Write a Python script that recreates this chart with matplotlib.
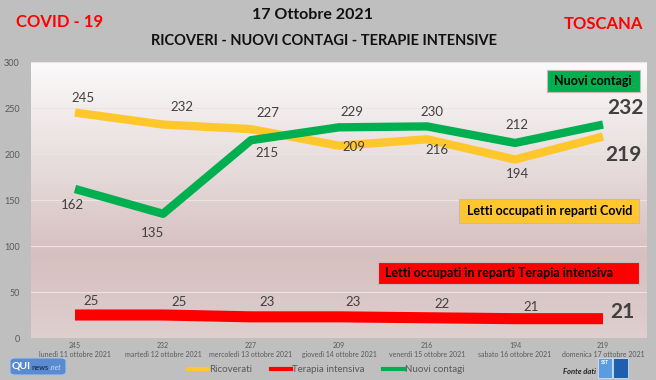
import numpy as np
import matplotlib
matplotlib.use("Agg")
import matplotlib.pyplot as plt
from matplotlib.colors import LinearSegmentedColormap
from matplotlib.lines import Line2D
from matplotlib.patches import Rectangle, FancyBboxPatch

plt.rcParams['font.family'] = ['Lato', 'DejaVu Sans']

# data
days = ["lunedì 11 ottobre 2021", "martedì 12 ottobre 2021", "mercoledì 13 ottobre 2021",
        "giovedì 14 ottobre 2021", "venerdì 15 ottobre 2021", "sabato 16 ottobre 2021",
        "domenica 17 ottobre 2021"]
ricoverati = [245, 232, 227, 209, 216, 194, 219]
terapia = [25, 25, 23, 23, 22, 21, 21]
contagi = [162, 135, 215, 229, 230, 212, 232]

W, H = 656, 380
YELLOW = "#ffc72c"
RED = "#ff0000"
GREEN = "#00b050"
TXT = "#404040"

fig = plt.figure(figsize=(W / 100, H / 100), dpi=100, facecolor="#bfbfbf")
ax = fig.add_axes([31 / W, 42 / H, 616 / W, 276 / H])
x = np.arange(len(days))
ax.set_xlim(-0.5, len(days) - 0.5)
ax.set_ylim(0, 300)

# plot area background gradient
cmap = LinearSegmentedColormap.from_list(
    "bg", [(0, "#dfcfcf"), (0.3, "#d6bfbf"), (0.6, "#e6dada"), (1, "#fbfafa")])
ax.imshow(np.linspace(0, 1, 256).reshape(-1, 1), extent=(-0.5, len(days) - 0.5, 0, 300),
          origin="lower", aspect="auto", cmap=cmap, zorder=0)

ax.set_yticks(range(0, 301, 50))
ax.grid(axis="y", color="#ebe4e4", lw=0.8, zorder=1)
ax.set_axisbelow(True)
for s in ax.spines.values():
    s.set_visible(False)
ax.tick_params(axis="y", length=0, labelsize=6.5, labelcolor="#595959", pad=8)
ax.tick_params(axis="x", length=0, labelsize=5, labelcolor="#595959", pad=3)
ax.set_xticks(x)
ax.set_xticklabels([f"{r}\n{d}" for r, d in zip(ricoverati, days)], linespacing=1.3)

ax.plot(x, terapia, color=RED, lw=8, solid_capstyle="butt", zorder=3)
ax.plot(x, ricoverati, color=YELLOW, lw=6, solid_capstyle="butt", zorder=3)
ax.plot(x, contagi, color=GREEN, lw=6, solid_capstyle="butt", zorder=4)

# data labels (pixel offsets)
off_y = [(8, 15), (19, 18), (17, 16), (15, -1), (10, -11), (2, -14), (20, -18)]
off_g = [(-3, -16), (-11, -19), (16, -13), (13, 15), (5, 14), (2, 18), (22, 17)]
off_r = [(16, 14), (16, 13), (16, 15), (14, 15), (15, 14), (16, 12), (19, 7)]


def labels(vals, offs):
    for i, (v, o) in enumerate(zip(vals, offs)):
        last = i == len(vals) - 1
        ax.annotate(str(v), (i, v), xytext=o, textcoords="offset pixels",
                    ha="center", va="center", color=TXT,
                    fontsize=15 if last else 9.5,
                    fontweight="bold" if last else "normal", zorder=6)


labels(ricoverati, off_y)
labels(contagi, off_g)
labels(terapia, off_r)


def box(x0, y0, x1, y1, color, text, tx):
    fig.patches.append(Rectangle((x0 / W, 1 - y1 / H), (x1 - x0) / W, (y1 - y0) / H,
                                 transform=fig.transFigure, facecolor=color,
                                 edgecolor="#c8b8b8", lw=0.8, zorder=5))
    fig.text(tx / W, 1 - (y0 + y1) / 2 / H, text, ha="left", va="center",
             fontsize=9, fontweight="bold", color="black", zorder=6)


box(547, 70, 640, 92, GREEN, "Nuovi contagi", 554)
box(459, 199, 639, 223, YELLOW, "Letti occupati in reparti Covid", 467)
box(378, 262, 639, 284, RED, "Letti occupati in reparti Terapia intensiva", 385)

# titles
fig.text(312 / W, 1 - 15 / H, "17 Ottobre 2021", ha="center", va="center",
         fontsize=11.5, fontweight="bold", color="#111111")
fig.text(324 / W, 1 - 41 / H, "RICOVERI - NUOVI CONTAGI - TERAPIE INTENSIVE", ha="center",
         va="center", fontsize=10.5, fontweight="bold", color="#111111")
fig.text(16 / W, 1 - 22 / H, "COVID - 19", ha="left", va="center",
         fontsize=12, fontweight="bold", color=RED)
fig.text(643 / W, 1 - 24 / H, "TOSCANA", ha="right", va="center",
         fontsize=12, fontweight="bold", color=RED)

# legend
handles = [Line2D([], [], color=YELLOW, lw=3),
           Line2D([], [], color=RED, lw=3),
           Line2D([], [], color=GREEN, lw=3)]
fig.legend(handles, ["Ricoverati", "Terapia intensiva", "Nuovi contagi"],
           loc="center", bbox_to_anchor=(326 / W, 1 - 370 / H), ncol=3, frameon=False,
           fontsize=7, labelcolor="#595959", handlelength=2.1, handletextpad=0.1,
           columnspacing=1.9)

# logos
fig.patches.append(FancyBboxPatch((10 / W, 1 - 375 / H), 56 / W, 17 / H,
                                  boxstyle="round,pad=0,rounding_size=0.008",
                                  transform=fig.transFigure, facecolor="#5a8ad0",
                                  edgecolor="#a8c2e6", lw=0.8))
fig.text(12 / W, 1 - 366 / H, "QUI", ha="left", va="center", fontsize=7.5,
         fontweight="bold", color="white")
fig.text(31 / W, 1 - 367 / H, "news", ha="left", va="center", fontsize=5.3,
         fontweight="bold", color="#1f3560")
fig.text(50 / W, 1 - 367 / H, ".net", ha="left", va="center", fontsize=5.3,
         style="italic", color="#c6daf5")
fig.text(563 / W, 1 - 371 / H, "Fonte dati", ha="left", va="center", fontsize=5.5,
         fontweight="bold", style="italic", color="#222222")
fig.patches.append(Rectangle((598 / W, 1 - 378 / H), 14 / W, 20 / H,
                             transform=fig.transFigure, facecolor="#5b9be0",
                             edgecolor="#cfe0f5", lw=0.6))
fig.patches.append(Rectangle((613 / W, 1 - 378 / H), 15 / W, 20 / H,
                             transform=fig.transFigure, facecolor="#1f5fae",
                             edgecolor="#cfe0f5", lw=0.6))
fig.text(605 / W, 1 - 362 / H, "SST", ha="center", va="center", fontsize=3.5,
         fontweight="bold", color="white")

fig.savefig("out.png", dpi=100, facecolor=fig.get_facecolor())
